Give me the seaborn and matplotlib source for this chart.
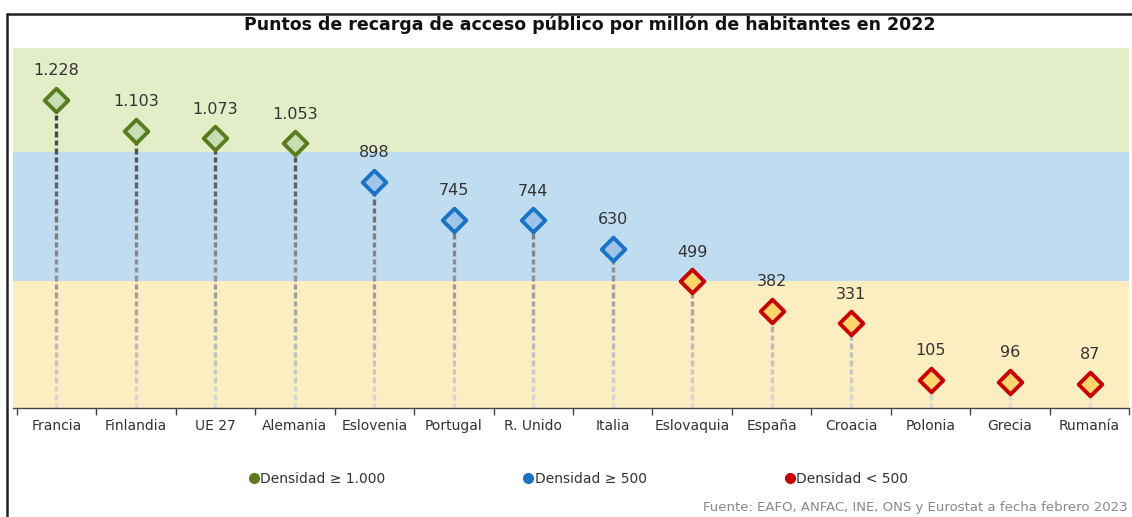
import numpy as np
import pandas as pd
import matplotlib
matplotlib.use("Agg")
import matplotlib.pyplot as plt
from matplotlib.lines import Line2D
import seaborn as sns

# datos
paises = ["Francia", "Finlandia", "UE 27", "Alemania", "Eslovenia", "Portugal", "R. Unido",
          "Italia", "Eslovaquia", "España", "Croacia", "Polonia", "Grecia", "Rumanía"]
valores = [1228, 1103, 1073, 1053, 898, 745, 744, 630, 499, 382, 331, 105, 96, 87]
grupos = ["alta", "alta", "alta", "alta", "media", "media", "media", "media",
          "baja", "baja", "baja", "baja", "baja", "baja"]
leyenda = {"alta": "Densidad \u2265 1.000", "media": "Densidad \u2265 500", "baja": "Densidad < 500"}

titulo = "Puntos de recarga de acceso público por millón de habitantes en 2022"
fuente = "Fuente: EAFO, ANFAC, INE, ONS y Eurostat a fecha febrero 2023"

umbral_bajo = 500
umbral_alto = 1020

borde = {"alta": "#5b7b1e", "media": "#1a73c4", "baja": "#c80000"}
relleno = {"alta": "#c6dfb2", "media": "#9fc6ea", "baja": "#ffd66c"}
fondo = {"alta": "#e3eec9", "media": "#bfdcf0", "baja": "#fdeec1"}

df = pd.DataFrame({"pais": paises, "valor": valores, "grupo": grupos})
df["pos"] = np.arange(len(df))

sns.set_style("white")
plt.rcParams["font.family"] = ["DejaVu Sans"]

W, H = 1132, 517
fig = plt.figure(figsize=(W / 100, H / 100), dpi=100)
ax = fig.add_axes([13.3 / W, 1 - 408 / H, (1129.3 - 13.3) / W, (408 - 48) / H])

ymin, ymax = -9, 1436
ax.set_ylim(ymin, ymax)
ax.set_xlim(-0.543, 13.5)

# bandas de fondo
ax.axhspan(umbral_alto, ymax, color=fondo["alta"], lw=0, zorder=0)
ax.axhspan(umbral_bajo, umbral_alto, color=fondo["media"], lw=0, zorder=0)
ax.axhspan(ymin, umbral_bajo, color=fondo["baja"], lw=0, zorder=0)

# tallos discontinuos con degradado
dash, gap = 22, 12
xs, y0s, y1s, cols = [], [], [], []
for p, v in zip(df["pos"], df["valor"]):
    y = ymin
    while y < v:
        y2 = min(y + dash, v)
        mid = (y + y2) / 2
        g = np.clip(0.86 - 0.62 * mid / 1150, 0.25, 0.9)
        xs.append(p); y0s.append(y); y1s.append(y2); cols.append((g, g, g))
        y += dash + gap
ax.vlines(xs, y0s, y1s, colors=cols, lw=2.4, zorder=2)

# marcadores
for gname, sub in df.groupby("grupo", sort=False):
    sns.scatterplot(data=sub, x="pos", y="valor", marker="D", s=145,
                    color=relleno[gname], edgecolor=borde[gname], linewidth=2.8,
                    ax=ax, zorder=3, legend=False)

for p, v in zip(df["pos"], df["valor"]):
    txt = f"{v:,}".replace(",", ".")
    ax.annotate(txt, (p, v), xytext=(0, 21), textcoords="offset points",
                ha="center", va="center", fontsize=11.5, color="#333333")

# ejes
for s in ["top", "right", "left"]:
    ax.spines[s].set_visible(False)
ax.spines["bottom"].set_color("#444444")
ax.spines["bottom"].set_linewidth(1)
ax.set_yticks([])
ax.set_xticks(np.arange(len(paises) + 1) - 0.5)
ax.set_xticklabels([])
ax.tick_params(axis="x", which="major", length=5, width=1, color="#444444", direction="out", bottom=True)
ax.set_xticks(df["pos"], minor=True)
ax.set_xticklabels(paises, minor=True, fontsize=10, color="#333333")
ax.tick_params(axis="x", which="minor", length=0, pad=8)
ax.set_xlabel("")
ax.set_ylabel("")

# título y marco
fig.text(590 / W, 1 - 25 / H, titulo, ha="center", va="center", fontsize=12.5,
         fontweight="bold", color="#111111")
fig.add_artist(Line2D([7 / W, 1], [1 - 14 / H, 1 - 14 / H], color="#222222", lw=1.8))
fig.add_artist(Line2D([7 / W, 7 / W], [0, 1 - 14 / H], color="#222222", lw=1.8))

# leyenda
handles = [Line2D([], [], marker="o", ls="", markersize=7, color=borde[k]) for k in ["alta", "media", "baja"]]
labels = [leyenda[k] for k in ["alta", "media", "baja"]]
fig.legend(handles, labels, loc="center", bbox_to_anchor=(578 / W, 1 - 479 / H), ncol=3,
           frameon=False, fontsize=10, handletextpad=0.05, columnspacing=9.9,
           handlelength=0.8, labelcolor="#333333")

fig.text(1128 / W, 3 / H, fuente, ha="right", va="bottom", fontsize=9.5, color="#888888")

fig.savefig("out.png", dpi=100)
